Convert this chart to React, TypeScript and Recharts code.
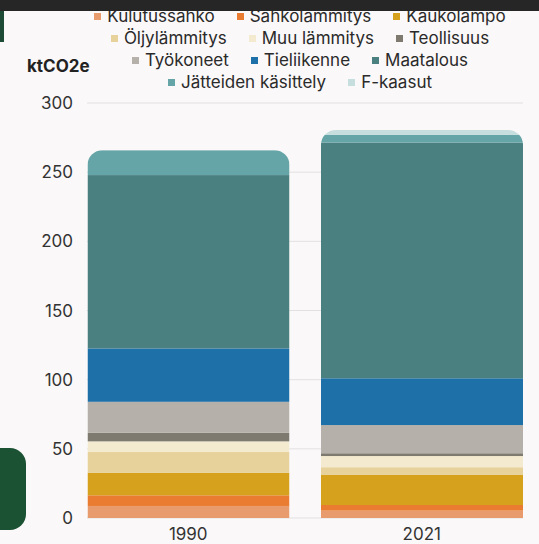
import React from 'react';
import { BarChart, Bar, XAxis, YAxis, CartesianGrid } from 'recharts';

// Categories (years)
const YEARS = ['1990', '2021'];

// Emissions by sector, ktCO2e
const KULUTUSSAHKO = [8.7, 5.3];
const SAHKOLAMMITYS = [7.7, 4.1];
const KAUKOLAMPO = [16.4, 21.7];
const OLJYLAMMITYS = [14.9, 5.6];
const MUU_LAMMITYS = [7.7, 8.1];
const TEOLLISUUS = [6.2, 2.0];
const TYOKONEET = [22.4, 20.4];
const TIELIIKENNE = [38.6, 33.8];
const MAATALOUS = [125.3, 170.4];
const JATTEET = [18.0, 5.5];
const F_KAASUT = [0, 3.6];

const Y_TICKS = [0, 50, 100, 150, 200, 250, 300];

interface Series {
  key: string;
  name: string;
  color: string;
  values: number[];
}

// stack order, bottom to top
const SERIES: Series[] = [
  { key: 'kulutussahko', name: 'Kulutussähkö', color: '#E89C6E', values: KULUTUSSAHKO },
  { key: 'sahkolammitys', name: 'Sähkölämmitys', color: '#E97C30', values: SAHKOLAMMITYS },
  { key: 'kaukolampo', name: 'Kaukolämpö', color: '#D6A11C', values: KAUKOLAMPO },
  { key: 'oljylammitys', name: 'Öljylämmitys', color: '#E8D29C', values: OLJYLAMMITYS },
  { key: 'muu', name: 'Muu lämmitys', color: '#F3EAD0', values: MUU_LAMMITYS },
  { key: 'teollisuus', name: 'Teollisuus', color: '#7E7A70', values: TEOLLISUUS },
  { key: 'tyokoneet', name: 'Työkoneet', color: '#B5B0A9', values: TYOKONEET },
  { key: 'tieliikenne', name: 'Tieliikenne', color: '#1E71A8', values: TIELIIKENNE },
  { key: 'maatalous', name: 'Maatalous', color: '#4B8080', values: MAATALOUS },
  { key: 'jatteet', name: 'Jätteiden käsittely', color: '#65A5A7', values: JATTEET },
  { key: 'fkaasut', name: 'F-kaasut', color: '#C6DEDE', values: F_KAASUT },
];

const data = YEARS.map((year, i) => {
  const row: Record<string, string | number> = { year };
  SERIES.forEach((s) => {
    row[s.key] = s.values[i];
  });
  return row;
});

const LEGEND_ROWS = [SERIES.slice(0, 3), SERIES.slice(3, 6), SERIES.slice(6, 9), SERIES.slice(9)];

const FONT = 'Inter, "Noto Sans", sans-serif';
const R = 15;

// each segment is clipped by the rounded outline of its whole stack
const Segment = (props: any) => {
  const { x, y, width, height, fill, payload, index, seriesIndex } = props;
  if (!height || height <= 0) return null;
  const own = payload[SERIES[seriesIndex].key];
  const ppu = height / own;
  let above = 0;
  for (let j = seriesIndex + 1; j < SERIES.length; j++) above += payload[SERIES[j].key];
  const top = y - above * ppu;
  const bottom = y + height;
  const id = `clip-${seriesIndex}-${index}`;
  return (
    <g>
      <defs>
        <clipPath id={id}>
          <rect x={x} y={top} width={width} height={bottom - top + 40} rx={R} ry={R} />
        </clipPath>
      </defs>
      <rect x={x} y={y} width={width} height={height} fill={fill} clipPath={`url(#${id})`} />
    </g>
  );
};

export default function App() {
  return (
    <div
      style={{
        position: 'absolute',
        left: 0,
        top: 0,
        width: 539,
        height: 544,
        background: '#FAF8F8',
        overflow: 'hidden',
        fontFamily: FONT,
      }}
    >
      {/* green decorations */}
      <div style={{ position: 'absolute', left: 0, top: 11, width: 4, height: 31, background: '#1E4B35' }} />
      <div
        style={{
          position: 'absolute',
          left: -20,
          top: 448,
          width: 46,
          height: 82,
          background: '#1B5233',
          borderRadius: 16,
        }}
      />

      {/* legend */}
      <div style={{ position: 'absolute', left: 0, top: 5, width: 600, textAlign: 'center' }}>
        {LEGEND_ROWS.map((row, ri) => (
          <div
            key={ri}
            style={{ height: 22, display: 'flex', justifyContent: 'center', alignItems: 'center', gap: 22 }}
          >
            {row.map((s) => (
              <div key={s.key} style={{ display: 'flex', alignItems: 'center', gap: 6 }}>
                <span style={{ width: 7, height: 7, background: s.color, display: 'inline-block' }} />
                <span style={{ fontSize: 17, color: '#2a2a2a' }}>{s.name}</span>
              </div>
            ))}
          </div>
        ))}
      </div>

      {/* dark strip over the top of the frame */}
      <div style={{ position: 'absolute', left: 0, top: 0, width: 539, height: 11, background: '#262626' }} />

      <div
        style={{
          position: 'absolute',
          left: 27,
          top: 56,
          fontSize: 17,
          fontWeight: 700,
          color: '#222',
        }}
      >
        ktCO2e
      </div>

      <div style={{ position: 'absolute', left: 0, top: 0 }}>
        <BarChart width={539} height={544} data={data} margin={{ top: 103, right: 16, left: 0, bottom: 0 }}>
          <CartesianGrid vertical={false} stroke="#E2E0E0" />
          <XAxis
            dataKey="year"
            axisLine={false}
            tickLine={false}
            height={26}
            tickMargin={4}
            padding={{ left: -15.5, right: -15.5 }}
            tick={{ fontSize: 17, fill: '#333', fontFamily: FONT }}
          />
          <YAxis
            domain={[0, 300]}
            ticks={Y_TICKS}
            width={87}
            axisLine={false}
            tickLine={false}
            tickMargin={8}
            tick={{ fontSize: 17, fill: '#333', fontFamily: FONT }}
          />
          {SERIES.map((s, si) => (
            <Bar
              key={s.key}
              dataKey={s.key}
              name={s.name}
              stackId="a"
              fill={s.color}
              barSize={202}
              isAnimationActive={false}
              shape={(p: any) => <Segment {...p} seriesIndex={si} />}
            />
          ))}
        </BarChart>
      </div>
    </div>
  );
}
